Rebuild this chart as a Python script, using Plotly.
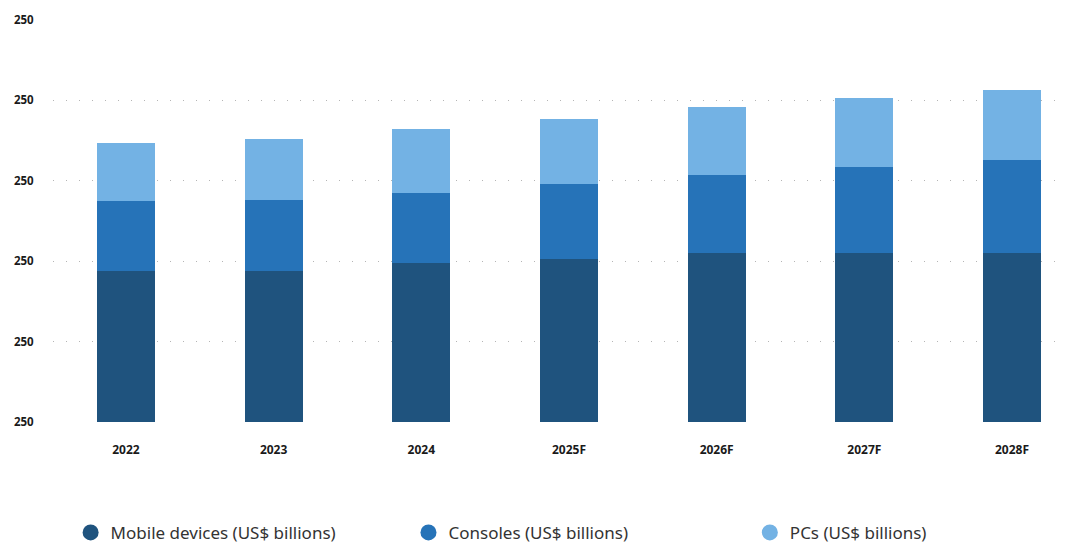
import plotly.graph_objects as go

years = ["2022", "2023", "2024", "2025F", "2026F", "2027F", "2028F"]
mobile = [93.8, 93.8, 98.7, 101.2, 105.0, 105.0, 105.0]
consoles = [43.5, 44.2, 43.7, 46.5, 48.3, 53.2, 57.6]
pcs = [36.4, 38.2, 40.0, 40.9, 42.8, 43.4, 44.0]
y_tick_vals = [0, 50, 100, 150, 200, 250]
y_tick_text = ["250", "250", "250", "250", "250", "250"]

names = ["Mobile devices (US$ billions)", "Consoles (US$ billions)", "PCs (US$ billions)"]
colors = ["#1F537E", "#2673B8", "#73B2E4"]
series = [mobile, consoles, pcs]
legend_ids = ["legend", "legend2", "legend3"]
legend_x = [0.0175, 0.353, 0.692]

FONT = "Noto Sans"

fig = go.Figure()
for name, vals, col in zip(names, series, colors):
    fig.add_trace(go.Bar(x=years, y=vals, name=name, marker=dict(color=col, line=dict(width=0)),
                         width=0.393, showlegend=False))
for name, col, lid in zip(names, colors, legend_ids):
    fig.add_trace(go.Scatter(x=[None], y=[None], mode="markers", name=name, legend=lid,
                             marker=dict(symbol="circle", size=18, color=col), showlegend=True))

legend_common = dict(orientation="h", xanchor="left", yanchor="middle", y=-0.275,
                     font=dict(size=17, color="#333", family=FONT), itemclick=False,
                     itemdoubleclick=False, bgcolor="rgba(0,0,0,0)", itemwidth=30)

fig.update_layout(
    barmode="stack",
    width=1072, height=545,
    margin=dict(l=53, r=12, t=19, b=123, autoexpand=False),
    plot_bgcolor="white", paper_bgcolor="white",
    font=dict(family=FONT, color="#222"),
    legend=dict(x=legend_x[0], **legend_common),
    legend2=dict(x=legend_x[1], **legend_common),
    legend3=dict(x=legend_x[2], **legend_common),
    xaxis=dict(type="category", range=[-0.494, 6.325], showgrid=False, zeroline=False,
               showline=False, ticks="outside", ticklen=17, tickcolor="rgba(0,0,0,0)",
               automargin=False,
               tickfont=dict(size=12, color="#1a1a1a", family=FONT, weight="bold")),
    yaxis=dict(range=[0, 250.5], tickvals=y_tick_vals, ticktext=y_tick_text,
               showgrid=True, gridcolor="#b5b5b5", gridwidth=1, griddash="1px,12px",
               zeroline=False, showline=False, ticks="outside", ticklen=16,
               tickcolor="rgba(0,0,0,0)", automargin=False,
               tickfont=dict(size=11.5, color="#1a1a1a", family=FONT, weight="bold")),
)

fig.write_html("out.html", config={"displayModeBar": False},
               post_script="document.body.style.margin='0';document.body.style.overflow='hidden';")
